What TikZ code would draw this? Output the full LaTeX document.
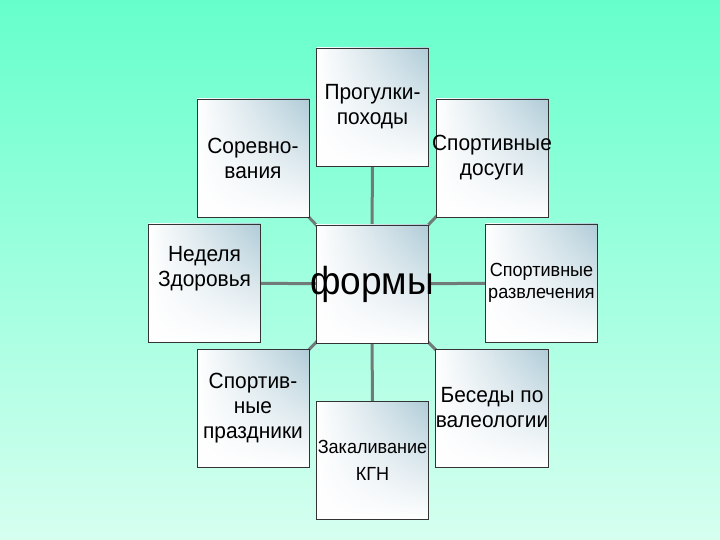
\documentclass[tikz,border=0pt]{standalone}
\usepackage{fontspec}
\setmainfont[FakeStretch=0.95]{Liberation Sans}
\usetikzlibrary{fadings}
\pgfdeclarelayer{back}
\pgfdeclarelayer{links}
\pgfsetlayers{back,links,main}
\definecolor{mintTop}{RGB}{102,255,204}
\definecolor{mintBot}{RGB}{214,255,240}
\definecolor{cardGray}{RGB}{176,204,216}
\definecolor{linkGray}{RGB}{112,122,120}
\tikzset{
	card/.style={draw=black!80, line width=0.9pt, minimum width=112pt, minimum height=118pt,
		inner sep=0pt, align=center, fill=white,
		path picture={\shade[left color=white, middle color=white, right color=cardGray, path fading=south]
			(path picture bounding box.south west) rectangle (path picture bounding box.north east);},
		font=\fontsize{22}{25}\selectfont},
	link/.style={draw=linkGray, line width=3pt}
}
\begin{document}
\begin{tikzpicture}[x=1pt,y=-1pt]
			\useasboundingbox (0,0) rectangle (720,540);
			\node[card, font=\fontsize{39}{40}\selectfont] (forms) at (372,284) {\makebox[0pt]{формы}};
			\node[card] (walks) at (372.5,107) {Прогулки-\\походы};
			\node[card] (contests) at (253,158) {Соревно-\\вания};
			\node[card] (leisure) at (492,158) {\makebox[0pt]{Спортивные}\\досуги};
			\node[card] (week) at (204.5,283) {Неделя\\Здоровья\\[8pt]};
			\node[card, font=\fontsize{19}{22}\selectfont] (fun) at (541.5,283) {Спортивные\\развлечения};
			\node[card] (holidays) at (253,408) {Спортив-\\ные\\праздники};
			\node[card, font=\fontsize{19}{27}\selectfont] (hardening) at (372.5,460) {Закаливание\\КГН};
			\node[card] (talks) at (492,408) {Беседы по\\валеологии};
			\begin{pgfonlayer}{links}
				\foreach \n in {walks,contests,leisure,week,fun,holidays,hardening,talks}
					\draw[link] (forms.center)--(\n.center);
			\end{pgfonlayer}
			\begin{pgfonlayer}{back}
				\shade[top color=mintTop, bottom color=mintBot] (0,0) rectangle (720,540);
			\end{pgfonlayer}
		\end{tikzpicture}
\end{document}
